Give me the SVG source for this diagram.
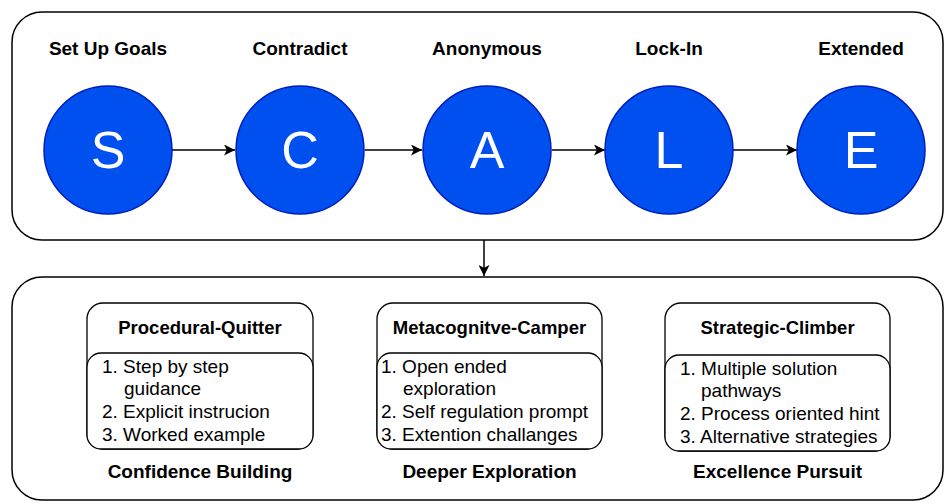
<svg xmlns="http://www.w3.org/2000/svg" width="945" height="504" viewBox="0 0 945 504">
<defs>
<marker id="ah" viewBox="0 0 10 10" refX="10" refY="5" markerWidth="11" markerHeight="11" markerUnits="userSpaceOnUse" orient="auto">
<path d="M0,0 L10,5 L0,10 L2.5,5 Z" fill="#000"/>
</marker>
<style>
.cont{fill:#fff;stroke:#000;stroke-width:1.5}
.circ{fill:#0050ef;stroke:#001dbc;stroke-width:1.5}
.letter{font-family:"Liberation Sans",Arial,sans-serif;font-size:52px;fill:#fff;text-anchor:middle}
.lbl{font-family:"Liberation Sans",Arial,sans-serif;font-size:19px;font-weight:bold;fill:#000;text-anchor:middle}
.hdr{font-family:"Liberation Sans",Arial,sans-serif;font-size:18.5px;font-weight:bold;fill:#000;text-anchor:middle}
.item{font-family:"Liberation Sans",Arial,sans-serif;font-size:19px;fill:#000}
.box{fill:#fff;stroke:#000;stroke-width:1.3}
.conn{fill:none;stroke:#000;stroke-width:1.5}
</style>
</defs>
<rect x="0" y="0" width="945" height="504" fill="#fff"/>
<g id="top-container"><rect class="cont" x="12" y="12" width="931" height="228" rx="30"/></g>
<g id="bottom-container"><rect class="cont" x="12" y="277" width="931" height="223" rx="30"/></g>
<g id="connectors">
<line class="conn" x1="172" y1="150" x2="235" y2="150" marker-end="url(#ah)"/>
<line class="conn" x1="365" y1="150" x2="422" y2="150" marker-end="url(#ah)"/>
<line class="conn" x1="552" y1="150" x2="605" y2="150" marker-end="url(#ah)"/>
<line class="conn" x1="733" y1="150" x2="797" y2="150" marker-end="url(#ah)"/>
<line class="conn" x1="484" y1="240" x2="484" y2="276" marker-end="url(#ah)"/>
</g>
<g id="node-S"><text class="lbl" x="108" y="55">Set Up Goals</text><circle class="circ" cx="108" cy="150" r="64"/><text class="letter" x="108" y="168">S</text></g>
<g id="node-C"><text class="lbl" x="300" y="55">Contradict</text><circle class="circ" cx="300" cy="150" r="64"/><text class="letter" x="300" y="168">C</text></g>
<g id="node-A"><text class="lbl" x="487" y="55">Anonymous</text><circle class="circ" cx="487" cy="150" r="64"/><text class="letter" x="487" y="168">A</text></g>
<g id="node-L"><text class="lbl" x="669" y="55">Lock-In</text><circle class="circ" cx="669" cy="150" r="64"/><text class="letter" x="669" y="168">L</text></g>
<g id="node-E"><text class="lbl" x="861" y="55">Extended</text><circle class="circ" cx="861" cy="150" r="64"/><text class="letter" x="861" y="168">E</text></g>
<g id="box-procedural">
<rect class="box" x="87" y="303" width="226" height="146" rx="16"/>
<rect class="box" x="87" y="353" width="226" height="96" rx="14"/>
<text class="hdr" x="200" y="334">Procedural-Quitter</text>
<text class="item" x="102" y="373">1. Step by step</text>
<text class="item" x="124" y="395">guidance</text>
<text class="item" x="102" y="418">2. Explicit instrucion</text>
<text class="item" x="102" y="441">3. Worked example</text>
<text class="lbl" x="200" y="478">Confidence Building</text>
</g>
<g id="box-metacognitive">
<rect class="box" x="377" y="303" width="225" height="146" rx="16"/>
<rect class="box" x="377" y="353" width="225" height="96" rx="14"/>
<text class="hdr" x="489.5" y="334">Metacognitve-Camper</text>
<text class="item" x="381" y="373">1. Open ended</text>
<text class="item" x="403" y="395">exploration</text>
<text class="item" x="381" y="418">2. Self regulation prompt</text>
<text class="item" x="381" y="441">3. Extention challanges</text>
<text class="lbl" x="489.5" y="478">Deeper Exploration</text>
</g>
<g id="box-strategic">
<rect class="box" x="665" y="303" width="225" height="148" rx="16"/>
<rect class="box" x="665" y="355" width="225" height="96" rx="14"/>
<text class="hdr" x="777.5" y="334">Strategic-Climber</text>
<text class="item" x="680" y="375">1. Multiple solution</text>
<text class="item" x="701" y="397">pathways</text>
<text class="item" x="680" y="420">2. Process oriented hint</text>
<text class="item" x="680" y="443">3. Alternative strategies</text>
<text class="lbl" x="777.5" y="478">Excellence Pursuit</text>
</g>
</svg>
